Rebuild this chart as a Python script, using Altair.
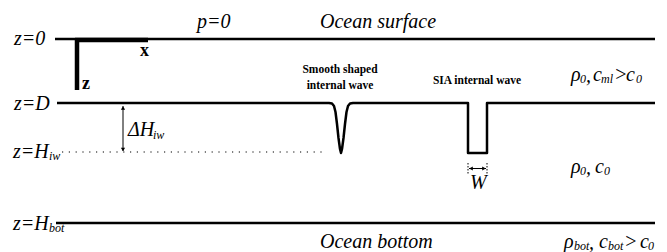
import altair as alt
import pandas as pd

# ---- diagram geometry (screen-like units: x to the right, depth y downward) ----
surface_x = [55, 655]
surface_y = [39, 39]

dline_x = [57, 329, 332, 334, 335.5, 337, 338.5, 340, 341, 342, 343.5, 345, 346.5, 348, 350, 353,
           468, 468, 487, 487, 655]
dline_y = [103, 103, 103.5, 106, 112, 124, 138, 149, 153, 149, 138, 124, 112, 106, 103.5, 103,
           103, 153, 153, 103, 103]

bottom_x = [56, 655]
bottom_y = [223, 223]

axis_x1 = [75, 77]
axis_x2 = [148, 77]
axis_y1 = [40, 38]
axis_y2 = [40, 90]

dotted_x = [62, 322]
dotted_y = [152, 152]

dh_x = [123, 123]
dh_y = [106, 151]
w_x = [469, 486]
w_y = [168.5, 168.5]
w_tick_x = [468, 487]
w_tick_y1 = [163, 163]
w_tick_y2 = [174, 174]

heads_x = [123, 123, 471, 484]
heads_y = [108, 149.5, 168.5, 168.5]
heads_shape = ["triangle-up", "triangle-down", "triangle-left", "triangle-right"]

# ---- labels ----
italic_text = ["z=0", "z=D", "z=H", "z=H", "p=0", "Ocean surface", "Ocean bottom", "ΔH", "W",
               "ρ", ",", "c", ">", "c",
               "ρ", ",", "c",
               "ρ", ",", "c", ">", "c"]
italic_x = [14, 14, 13, 13, 197, 320, 320, 128, 470,
            571, 586, 593, 614, 626,
            571, 586, 595,
            564, 589, 599, 624, 640]
italic_y = [39, 104, 152, 224, 22, 22, 242, 130, 183,
            75, 76, 75, 75, 75,
            167, 168, 167,
            242, 243, 242, 242, 242]

sub_text = ["iw", "bot", "iw", "0", "ml", "0", "0", "0", "bot", "bot", "0"]
sub_x = [49, 49, 153, 580, 601, 636, 580, 604, 574, 608, 648]
sub_y = [156, 228, 135, 79, 79, 79, 171, 171, 246, 246, 246]

bold_text = ["x", "z"]
bold_x = [140, 82]
bold_y = [51, 84]

small_bold_text = ["Smooth shaped", "internal wave", "SIA internal wave"]
small_bold_x = [340, 340, 477]
small_bold_y = [70, 86, 81]

# ---- build tables ----
lines_df = pd.DataFrame(
    [{"id": "surface", "o": i, "x": x, "y": y} for i, (x, y) in enumerate(zip(surface_x, surface_y))]
    + [{"id": "dline", "o": i, "x": x, "y": y} for i, (x, y) in enumerate(zip(dline_x, dline_y))]
    + [{"id": "bottom", "o": i, "x": x, "y": y} for i, (x, y) in enumerate(zip(bottom_x, bottom_y))]
)
axes_df = pd.DataFrame({"x": axis_x1, "x2": axis_x2, "y": axis_y1, "y2": axis_y2})
dotted_df = pd.DataFrame({"x": [dotted_x[0]], "x2": [dotted_x[1]], "y": [dotted_y[0]], "y2": [dotted_y[1]]})
arrows_df = pd.DataFrame({"x": [dh_x[0], w_x[0]], "x2": [dh_x[1], w_x[1]],
                          "y": [dh_y[0], w_y[0]], "y2": [dh_y[1], w_y[1]]})
wticks_df = pd.DataFrame({"x": w_tick_x, "y": w_tick_y1, "y2": w_tick_y2})
heads_df = pd.DataFrame({"x": heads_x, "y": heads_y, "shape": heads_shape})

XS = alt.Scale(domain=[8, 659], nice=False, zero=False)
YS = alt.Scale(domain=[8, 252], nice=False, zero=False, reverse=True)

def X(f="x"):
    return alt.X(f"{f}:Q", scale=XS, axis=None)

def Y(f="y"):
    return alt.Y(f"{f}:Q", scale=YS, axis=None)

FONT = "Liberation Serif"

lines = alt.Chart(lines_df).mark_line(color="black", strokeWidth=2.5, strokeJoin="round").encode(
    x=X(), y=Y(), detail="id:N", order="o:Q")

axes = alt.Chart(axes_df).mark_rule(color="black", strokeWidth=4.5).encode(
    x=X(), x2="x2:Q", y=Y(), y2="y2:Q")

dotted = alt.Chart(dotted_df).mark_rule(color="black", strokeWidth=1.2, strokeDash=[1.2, 5.6]).encode(
    x=X(), x2="x2:Q", y=Y(), y2="y2:Q")

arrows = alt.Chart(arrows_df).mark_rule(color="black", strokeWidth=1).encode(
    x=X(), x2="x2:Q", y=Y(), y2="y2:Q")

wticks = alt.Chart(wticks_df).mark_rule(color="black", strokeWidth=1, strokeDash=[1.5, 1.5]).encode(
    x=X(), y=Y(), y2="y2:Q")

heads = alt.Chart(heads_df).mark_point(filled=True, color="black", opacity=1, size=18).encode(
    x=X(), y=Y(), shape=alt.Shape("shape:N", scale=None))

def text_layer(txt, xs, ys, size, style, weight, align):
    df = pd.DataFrame({"t": txt, "x": xs, "y": ys})
    return alt.Chart(df).mark_text(font=FONT, fontSize=size, fontStyle=style, fontWeight=weight,
                                   align=align, baseline="middle", color="black").encode(
        x=X(), y=Y(), text="t:N")

t_italic = text_layer(italic_text, italic_x, italic_y, 20, "italic", "normal", "left")
t_sub = text_layer(sub_text, sub_x, sub_y, 12, "italic", "normal", "left")
t_bold = text_layer(bold_text, bold_x, bold_y, 18, "normal", "bold", "left")
t_small = text_layer(small_bold_text, small_bold_x, small_bold_y, 11.5, "normal", "bold", "center")

chart = alt.layer(lines, axes, dotted, arrows, wticks, heads, t_italic, t_sub, t_bold, t_small).properties(
    width=651, height=244, padding=0, autosize=alt.AutoSizeParams(type="none")
).configure_view(stroke=None)

chart.save("out.html", embed_options={"renderer": "svg", "actions": False})
